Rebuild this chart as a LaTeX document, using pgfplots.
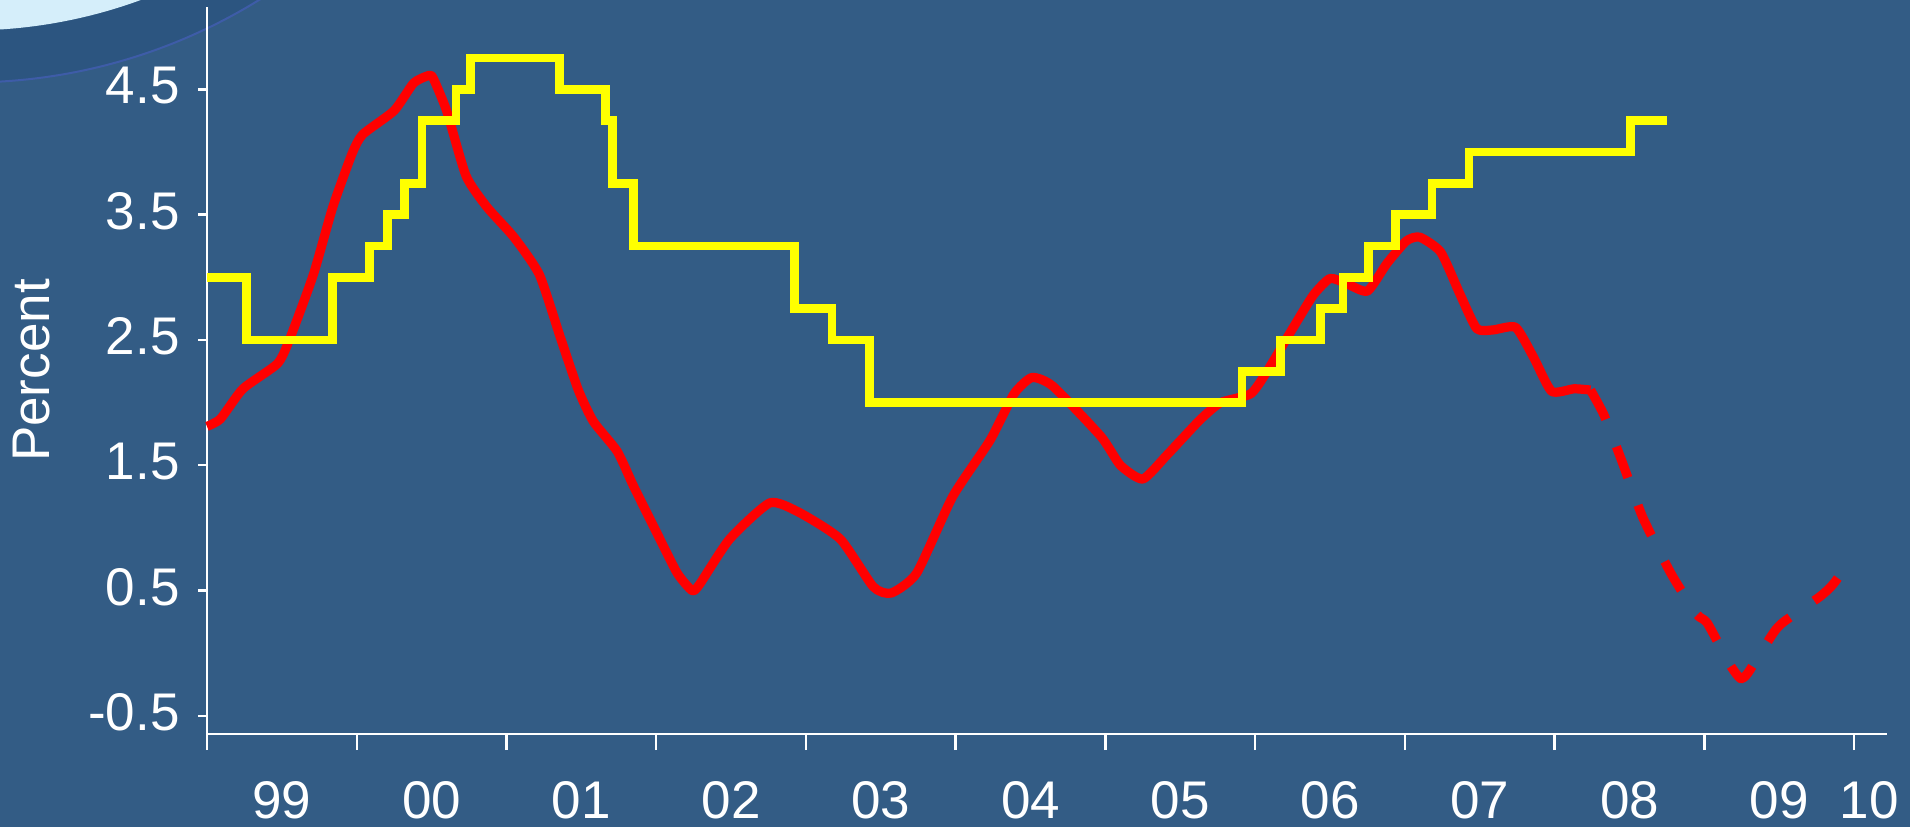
\documentclass[border=0pt]{standalone}
\usepackage{fontspec}
\setmainfont{Liberation Sans}
\usepackage{pgfplots}
\pgfplotsset{compat=1.18}
\definecolor{bgc}{RGB}{51,92,133}
\definecolor{bandc}{RGB}{44,85,128}
\definecolor{lightc}{RGB}{213,238,250}
\definecolor{arcc}{RGB}{62,92,168}
\definecolor{redl}{RGB}{255,0,0}
\definecolor{yell}{RGB}{255,255,0}
\begin{document}
\begin{tikzpicture}
\fill[bgc] (-103.5pt,-46.5pt) rectangle (851.5pt,367pt);
\begin{scope}
\clip (-103.5pt,-46.5pt) rectangle (851.5pt,367pt);
\fill[bandc] (-119.5pt,602.75pt) circle (277pt);
\fill[lightc] (-119.5pt,602.75pt) circle (251pt);
\draw[arcc, line width=1pt] (-119.5pt,602.75pt) circle (277pt);
\end{scope}
\begin{axis}[
  at={(0,0)}, anchor=south west,
  scale only axis, width=840pt, height=363.5pt,
  xmin=1999, xmax=2010.22, ymin=-0.645, ymax=5.157,
  axis lines*=left,
  axis line style={white, line width=1.2pt, -},
  clip=false,
  tick align=outside,
  tick style={white, line width=1.2pt},
  major tick length=4.5pt,
  minor tick length=8pt,
  ytick={-0.5,0.5,1.5,2.5,3.5,4.5},
  yticklabels={-0.5,0.5,1.5,2.5,3.5,4.5},
  xtick={1999.5,2000.5,2001.5,2002.5,2003.5,2004.5,2005.5,2006.5,2007.5,2008.5,2009.5,2010.1},
  xticklabels={99,00,01,02,03,04,05,06,07,08,09,10},
  minor xtick={1999,2000,2001,2002,2003,2004,2005,2006,2007,2008,2009,2010},
  major x tick style={draw=none},
  tick label style={font=\fontsize{26.5}{31}\selectfont, text=white},
  xticklabel style={anchor=base, yshift=-37.5pt},
  yticklabel style={anchor=east, inner sep=0pt, xshift=-9pt, yshift=1.7pt},
  ylabel={Percent},
  every axis y label/.style={at={(axis description cs:-0.1043,0.5)}, rotate=90, anchor=center, font=\fontsize{26.5}{31}\selectfont, text=white},
]
\addplot[redl, line width=4.6pt, line join=round, smooth, tension=0.35] table {
1999.00 1.81
1999.09 1.87
1999.24 2.11
1999.47 2.31
1999.55 2.50
1999.71 3.02
1999.84 3.56
1999.97 3.99
2000.04 4.14
2000.25 4.33
2000.38 4.55
2000.48 4.61
2000.51 4.59
2000.60 4.33
2000.73 3.81
2000.87 3.56
2001.05 3.32
2001.22 3.02
2001.36 2.52
2001.48 2.10
2001.58 1.85
2001.74 1.61
2001.85 1.33
2002.00 0.97
2002.14 0.64
2002.24 0.50
2002.29 0.55
2002.49 0.91
2002.76 1.20
2002.96 1.12
2003.23 0.91
2003.45 0.53
2003.57 0.48
2003.74 0.64
2003.98 1.25
2004.23 1.70
2004.39 2.07
2004.51 2.20
2004.65 2.13
2004.97 1.73
2005.10 1.50
2005.25 1.39
2005.41 1.58
2005.63 1.86
2005.77 2.00
2005.97 2.07
2006.08 2.25
2006.26 2.61
2006.39 2.86
2006.50 2.99
2006.61 2.95
2006.75 2.89
2006.88 3.11
2007.01 3.29
2007.10 3.32
2007.24 3.20
2007.37 2.86
2007.48 2.59
2007.59 2.58
2007.74 2.60
2007.86 2.36
2007.98 2.09
2008.13 2.11
2008.24 2.10
};
\addplot[redl, line width=4.6pt, dash pattern=on 16.5pt off 14.7pt, smooth, tension=0.35] table {
2008.24 2.10
2008.33 1.90
2008.45 1.53
2008.59 1.08
2008.78 0.63
2008.95 0.31
2009.02 0.24
2009.17 -0.09
2009.24 -0.20
2009.29 -0.16
2009.46 0.16
2009.53 0.25
2009.77 0.45
2009.86 0.55
2010.00 0.78
};
\addplot[yell, line width=4.3pt, const plot] table {
1999.000 3.00
1999.265 2.50
1999.837 3.00
2000.084 3.25
2000.204 3.50
2000.320 3.75
2000.436 4.25
2000.663 4.50
2000.760 4.75
2001.353 4.50
2001.660 4.25
2001.707 3.75
2001.850 3.25
2002.923 2.75
2003.173 2.50
2003.424 2.00
2005.912 2.25
2006.168 2.50
2006.435 2.75
2006.586 3.00
2006.757 3.25
2006.936 3.50
2007.181 3.75
2007.428 4.00
2008.506 4.25
2008.750 4.25
};
\end{axis}
\pgfresetboundingbox
\useasboundingbox (-103.5pt,-46.5pt) rectangle (851.5pt,367pt);
\end{tikzpicture}
\end{document}
